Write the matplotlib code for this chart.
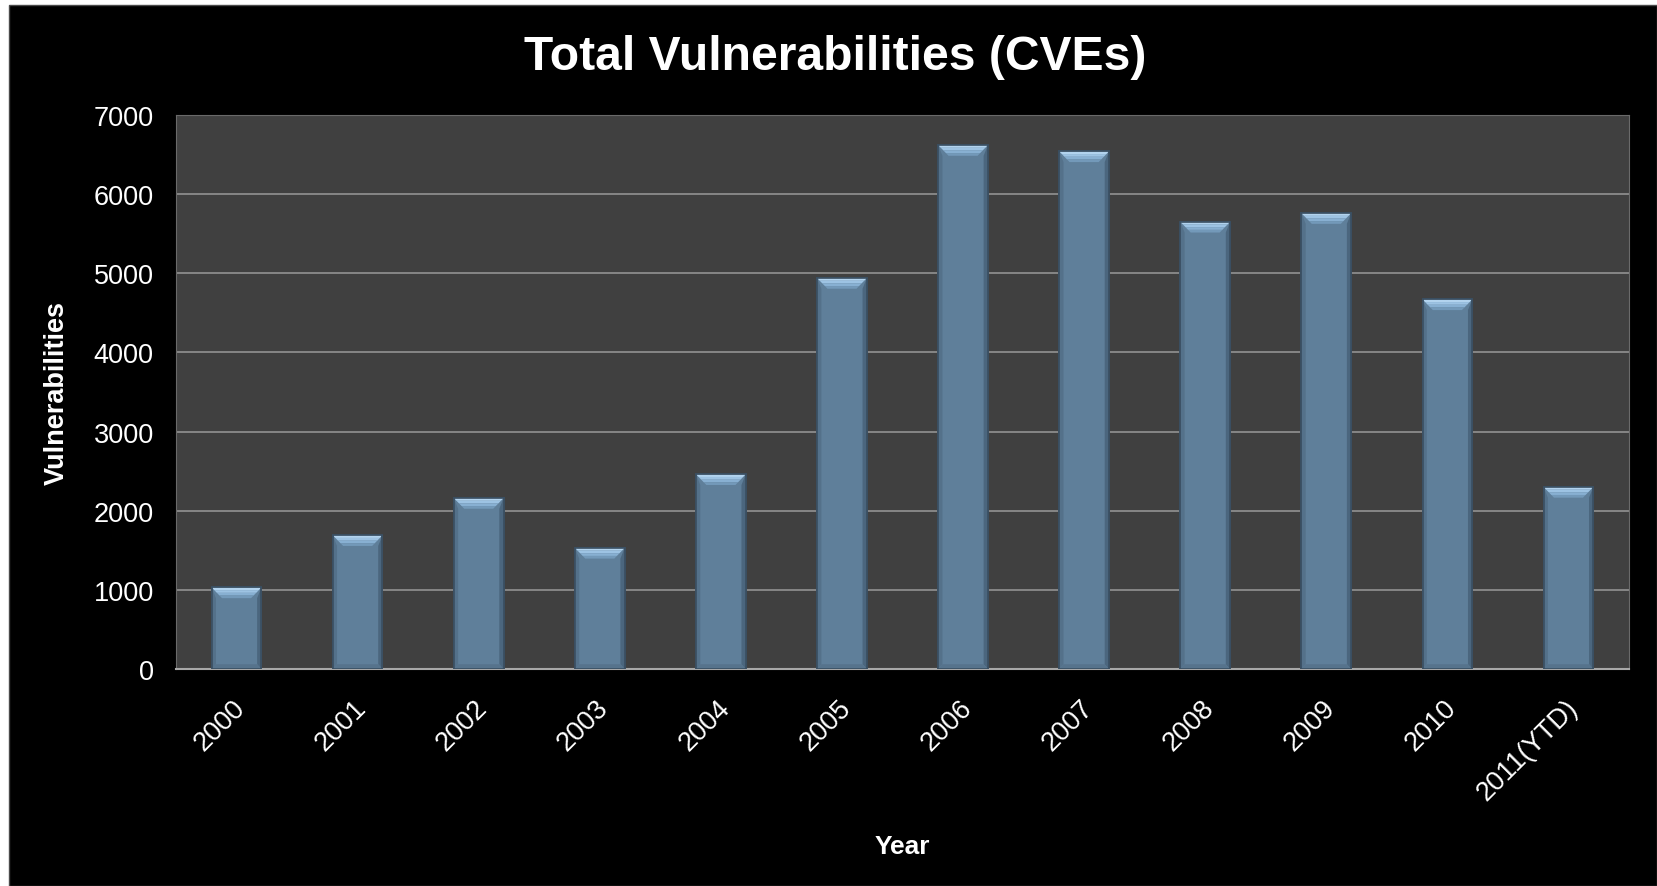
import matplotlib
import matplotlib.pyplot as plt
from matplotlib.patches import Rectangle, Polygon
import matplotlib.ticker as ticker
import matplotlib.transforms as mtransforms

matplotlib.use('Agg')

# Количество уязвимостей (CVE) по годам
years = ['2000', '2001', '2002', '2003', '2004', '2005', '2006',
         '2007', '2008', '2009', '2010', '2011(YTD)']
cves = [1030, 1690, 2160, 1530, 2460, 4940, 6620, 6540, 5650, 5760, 4670, 2300]

W, H = 1657, 887
plt.rcParams['font.family'] = ['Liberation Sans', 'DejaVu Sans']

fig = plt.figure(figsize=(W / 100, H / 100), dpi=100, facecolor='white')

# чёрный фон слайда с узкой белой полосой слева и сверху
fig.add_artist(Rectangle((9 / W, 0), 1 - 9 / W, 1 - 6 / H, transform=fig.transFigure,
                         facecolor='black', edgecolor='#4a4a4a', linewidth=1, zorder=-5))

ax = fig.add_axes([176 / W, 1 - 670 / H, 1453 / W, 554 / H])
ax.set_facecolor('#404040')

x = list(range(len(years)))
bars = ax.bar(x, cves, width=0.41, color='#5f7f9a', edgecolor='#3a4f62',
              linewidth=1.2, zorder=3)

# скошенные грани столбцов (эффект объёма)
bev_x = 0.085   # отступ скоса по x, в единицах категорий
bev_y = 135     # высота скоса, в единицах оси y
side_x = 0.035
for b in bars:
    x0, w, h = b.get_x(), b.get_width(), b.get_height()
    x1 = x0 + w
    # боковые и нижняя грани чуть темнее
    ax.add_patch(Polygon([(x0, 0), (x0 + side_x, 60), (x0 + side_x, h - bev_y), (x0, h)],
                         closed=True, facecolor='#54718a', edgecolor='none', zorder=4))
    ax.add_patch(Polygon([(x1, 0), (x1 - side_x, 60), (x1 - side_x, h - bev_y), (x1, h)],
                         closed=True, facecolor='#4b667e', edgecolor='none', zorder=4))
    ax.add_patch(Polygon([(x0, 0), (x0 + side_x, 60), (x1 - side_x, 60), (x1, 0)],
                         closed=True, facecolor='#56738c', edgecolor='none', zorder=4))
    # верхняя грань: светлая, с переходом к цвету столбца
    shades = ['#b2d3ee', '#9dc3e3', '#88b0d2', '#7399b9']
    n = len(shades)
    for i, c in enumerate(shades):
        ya, yb = h - bev_y * i / n, h - bev_y * (i + 1) / n
        xa, xb = bev_x * i / n, bev_x * (i + 1) / n
        ax.add_patch(Polygon([(x0 + xa, ya), (x1 - xa, ya), (x1 - xb, yb), (x0 + xb, yb)],
                             closed=True, facecolor=c, edgecolor='none', zorder=4))
    ax.add_patch(Rectangle((x0, 0), w, h, facecolor='none', edgecolor='#3a4f62',
                           linewidth=1.2, zorder=5))

ax.set_xlim(-0.5, len(years) - 0.5)
ax.set_ylim(0, 7000)
ax.yaxis.set_major_locator(ticker.MultipleLocator(1000))
ax.grid(axis='y', color='#8c8c8c', linewidth=1.3, zorder=1)
ax.set_axisbelow(True)

for side in ['left', 'top', 'right']:
    ax.spines[side].set_color('#6a6a6a')
ax.spines['bottom'].set_color('#a8a8a8')
ax.spines['bottom'].set_linewidth(1.5)

ax.set_xticks(x)
ax.set_xticklabels(years, rotation=45, ha='right', va='center', rotation_mode='anchor')
ax.tick_params(axis='x', length=0, pad=25, labelsize=19.5, labelcolor='white')
ax.tick_params(axis='y', length=0, pad=16, labelsize=19.5, labelcolor='white')
# сдвиг подписей по x немного вправо
shift = mtransforms.ScaledTranslation(5 / 100, 0, fig.dpi_scale_trans)
for lbl in ax.get_xticklabels():
    lbl.set_transform(lbl.get_transform() + shift)

ax.set_ylabel('Vulnerabilities', fontsize=19.5, fontweight='bold', color='white')
ax.yaxis.set_label_coords(-0.073, 0.5)
ax.set_xlabel('Year', fontsize=19, fontweight='bold', color='white')
ax.xaxis.set_label_coords(0.5, -0.297)

fig.text(835 / W, 1 - 57 / H, 'Total Vulnerabilities (CVEs)', fontsize=34.6,
         fontweight='bold', color='white', ha='center', va='center')

fig.savefig('out.png', dpi=100, facecolor=fig.get_facecolor())
